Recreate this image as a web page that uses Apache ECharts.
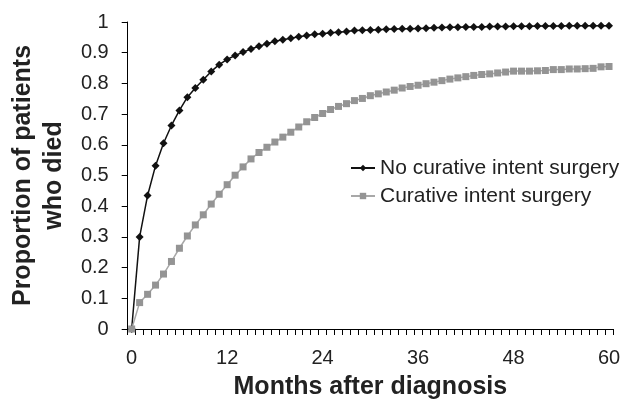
<!DOCTYPE html>
<html>
<head>
<meta charset="utf-8">
<script src="https://cdn.jsdelivr.net/npm/echarts@6/dist/echarts.min.js"></script>
<style>html,body{margin:0;padding:0;background:#fff}#c{width:625px;height:407px}</style>
</head>
<body>
<div id="c"></div>
<script>
var months = [];
for (var m = 0; m <= 60; m++) months.push(String(m));
var noSurgery = [0, 0.30, 0.435, 0.532, 0.605, 0.663, 0.712, 0.755, 0.785, 0.812, 0.839, 0.861, 0.878, 0.891, 0.902, 0.912, 0.921, 0.929, 0.937, 0.942, 0.947, 0.952, 0.956, 0.960, 0.962, 0.965, 0.967, 0.969, 0.972, 0.973, 0.974, 0.975, 0.976, 0.977, 0.978, 0.978, 0.979, 0.980, 0.981, 0.982, 0.983, 0.983, 0.984, 0.984, 0.984, 0.985, 0.985, 0.985, 0.986, 0.986, 0.986, 0.987, 0.987, 0.987, 0.987, 0.988, 0.988, 0.988, 0.988, 0.988, 0.988];
var curative = [0, 0.086, 0.113, 0.143, 0.179, 0.220, 0.263, 0.303, 0.339, 0.372, 0.407, 0.439, 0.470, 0.501, 0.528, 0.554, 0.575, 0.592, 0.609, 0.625, 0.641, 0.658, 0.675, 0.689, 0.702, 0.715, 0.725, 0.734, 0.744, 0.751, 0.760, 0.766, 0.772, 0.778, 0.785, 0.790, 0.794, 0.799, 0.804, 0.809, 0.814, 0.818, 0.822, 0.826, 0.829, 0.831, 0.834, 0.837, 0.840, 0.840, 0.840, 0.841, 0.842, 0.845, 0.845, 0.847, 0.847, 0.848, 0.849, 0.854, 0.855];
var seriesNames = ['No curative intent surgery', 'Curative intent surgery'];

var chart = echarts.init(document.getElementById('c'));
var font = 'Liberation Sans, Arial, sans-serif';
chart.setOption({
  animation: false,
  textStyle: { fontFamily: font },
  grid: { left: 118, right: 12, top: 22, bottom: 78 },
  legend: {
    orient: 'vertical', left: 345, top: 149, itemGap: 0,
    itemWidth: 24, itemHeight: 8,
    textStyle: { fontSize: 21, color: '#222', lineHeight: 28, fontFamily: font },
    data: seriesNames
  },
  xAxis: {
    type: 'category', data: months, boundaryGap: true,
    name: 'Months after diagnosis', nameLocation: 'middle', nameGap: 46,
    nameTextStyle: { fontSize: 25, fontWeight: 'bold', color: '#222', fontFamily: font },
    axisLine: { show: true, lineStyle: { color: '#000', width: 1 } },
    axisTick: { show: true, interval: 0, length: 6, inside: false, alignWithLabel: false, lineStyle: { color: '#000', width: 1 } },
    axisLabel: { show: true, interval: 11, fontSize: 20, color: '#222', margin: 19, fontFamily: font },
    splitLine: { show: false }
  },
  yAxis: {
    type: 'value', min: 0, max: 1, interval: 0.1,
    name: 'Proportion of patients\nwho died', nameLocation: 'middle', nameGap: 47, nameRotate: 90,
    nameTextStyle: { fontSize: 25, fontWeight: 'bold', color: '#222', lineHeight: 31, fontFamily: font },
    axisLine: { show: true, lineStyle: { color: '#000', width: 1 } },
    axisTick: { show: true, length: 6, lineStyle: { color: '#000' } },
    axisLabel: { fontSize: 20, color: '#222', margin: 19, fontFamily: font,
      formatter: function (v) { return String(+v.toFixed(1)); } },
    splitLine: { show: false }
  },
  series: [
    { name: seriesNames[0], type: 'line', data: noSurgery,
      symbol: 'diamond', symbolSize: 8, showAllSymbol: true,
      lineStyle: { color: '#111', width: 1.5 }, itemStyle: { color: '#111' } },
    { name: seriesNames[1], type: 'line', data: curative,
      symbol: 'rect', symbolSize: 7, showAllSymbol: true,
      lineStyle: { color: '#a8a8a8', width: 1.5 }, itemStyle: { color: '#949494' } }
  ]
});
</script>
</body>
</html>
